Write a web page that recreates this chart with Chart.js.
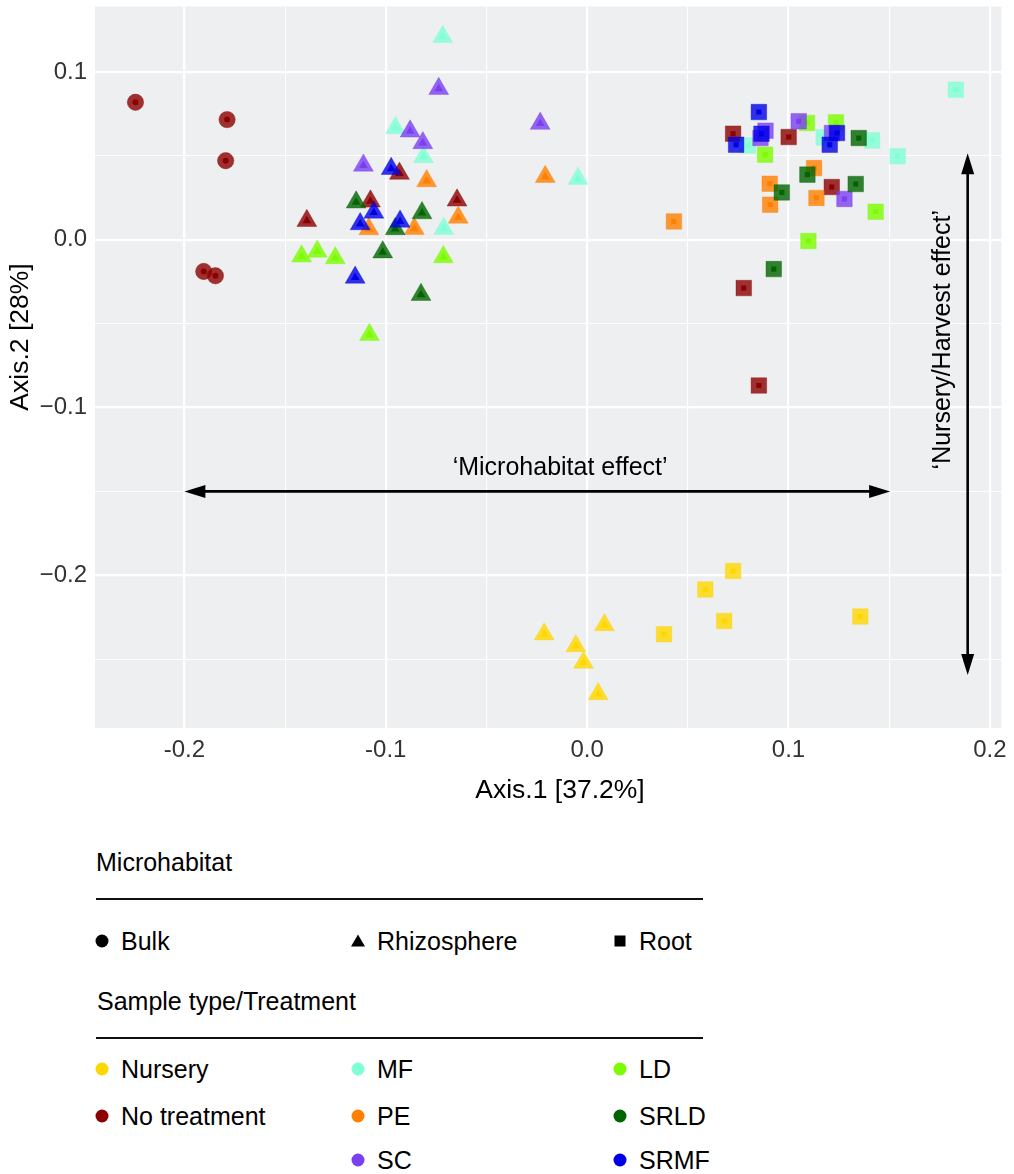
<!DOCTYPE html>
<html><head><meta charset="utf-8">
<script src="https://cdn.jsdelivr.net/npm/chart.js@4/dist/chart.umd.min.js"></script>
<style>
html,body{margin:0;padding:0;background:#fff;}
body{width:1014px;height:1174px;position:relative;overflow:hidden;font-family:'Liberation Sans',Arial,Helvetica,sans-serif;color:#000;}
#wrap{position:absolute;left:0;top:-6px;width:1014px;height:826px;}
.lg{position:absolute;font-size:25px;line-height:28px;white-space:nowrap;color:#000;}
.hr{position:absolute;height:2px;background:#111;}
.sym{position:absolute;overflow:visible;}
</style></head><body>
<div id="wrap"><canvas id="c" width="1014" height="826"></canvas></div>
<div id="legend"></div>
<script>
// ---------- DATA ----------
const microhabitats = ['Bulk', 'Rhizosphere', 'Root'];
const treatments = ['Nursery', 'No treatment', 'MF', 'PE', 'SC', 'LD', 'SRLD', 'SRMF'];
const treatmentColors = ['#FFD700', '#8B0000', '#7FFFD4', '#FF7F00', '#7B3FF2', '#7CFC00', '#006400', '#0000E6'];

const xTicks = [-0.2, -0.15, -0.1, -0.05, 0, 0.05, 0.1, 0.15, 0.2];
const yTicks = [-0.25, -0.2, -0.15, -0.1, -0.05, 0, 0.05, 0.1];
const xRange = [-0.2444, 0.2058];
const yRange = [-0.291, 0.139];

// Bulk (circles)
const bulkNoTreatment = [[-0.2243,0.0819],[-0.1788,0.0716],[-0.1795,0.0471],[-0.1904,-0.0189],[-0.1846,-0.0215]];

// Rhizosphere (triangles)
const rhizoNursery = [[-0.0213,-0.2351],[-0.0056,-0.2421],[-0.0018,-0.2520],[0.0086,-0.2296],[0.0055,-0.2707]];
const rhizoNoTreatment = [[-0.0932,0.0394],[-0.0646,0.0235],[-0.1076,0.0229],[-0.1392,0.0113]];
const rhizoMF = [[-0.0717,0.1209],[-0.0952,0.0666],[-0.0813,0.0493],[-0.0712,0.0066],[-0.0045,0.0364]];
const rhizoPE = [[-0.0797,0.0350],[-0.0640,0.0133],[-0.1084,0.0064],[-0.0858,0.0066],[-0.0208,0.0376]];
const rhizoSC = [[-0.0737,0.0900],[-0.0879,0.0646],[-0.0816,0.0577],[-0.1111,0.0443],[-0.0233,0.0692]];
const rhizoLD = [[-0.1418,-0.0099],[-0.1340,-0.0070],[-0.1251,-0.0109],[-0.0714,-0.0103],[-0.1081,-0.0566]];
const rhizoSRLD = [[-0.1147,0.0223],[-0.0820,0.0159],[-0.0953,0.0064],[-0.1015,-0.0074],[-0.0825,-0.0328]];
const rhizoSRMF = [[-0.0973,0.0423],[-0.1059,0.0163],[-0.1127,0.0094],[-0.0929,0.0109],[-0.1152,-0.0225]];

// Root (squares)
const rootNursery = [[0.0382,-0.2351],[0.0587,-0.2085],[0.0725,-0.1974],[0.0681,-0.2272],[0.1357,-0.2246]];
const rootNoTreatment = [[0.0725,0.0632],[0.1001,0.0612],[0.1215,0.0314],[0.0778,-0.0288],[0.0853,-0.0869]];
const rootMF = [[0.1831,0.0894],[0.1175,0.0610],[0.0798,0.0562],[0.1415,0.0592],[0.1542,0.0497]];
const rootPE = [[0.1127,0.0427],[0.0907,0.0334],[0.1139,0.0249],[0.0909,0.0209],[0.0431,0.0109]];
const rootSC = [[0.1051,0.0706],[0.0886,0.0650],[0.0861,0.0606],[0.1216,0.0636],[0.1278,0.0243]];
const rootLD = [[0.1092,0.0696],[0.1236,0.0700],[0.0884,0.0507],[0.1433,0.0167],[0.1099,-0.0008]];
const rootSRLD = [[0.1349,0.0606],[0.1094,0.0388],[0.0967,0.0282],[0.1334,0.0332],[0.0927,-0.0175]];
const rootSRMF = [[0.0853,0.0761],[0.0866,0.0632],[0.1241,0.0636],[0.1205,0.0566],[0.0740,0.0566]];

// Annotation arrows (data coordinates)
const microhabitatArrow = [[-0.2, -0.15], [0.1505, -0.15]];
const nurseryHarvestArrow = [[0.189, 0.0515], [0.189, -0.2594]];
const microhabitatLabel = { text: '\u2018Microhabitat effect\u2019', at: [-0.0134, -0.136] };
const nurseryHarvestLabel = { text: '\u2018Nursery/Harvest effect\u2019', at: [0.177, -0.0596] };
const xTitle = 'Axis.1 [37.2%]';
const yTitle = 'Axis.2 [28%]';
const legendTitles = ['Microhabitat', 'Sample type/Treatment'];

// ---------- BUILD ----------
const FONT = "'Liberation Sans', Arial, Helvetica, sans-serif";
const CANVAS_SHIFT = 6; // canvas is placed 6px above the page top
const shapeOf = { 'Bulk': 'circle', 'Rhizosphere': 'triangle', 'Root': 'rect' };
const outerR = { circle: 8.2, triangle: 11.5, rect: 11 };
const innerR = { circle: 3, triangle: 5, rect: 3.6 };

function hexToRgba(hex, a) {
  const n = parseInt(hex.slice(1), 16);
  return `rgba(${(n >> 16) & 255},${(n >> 8) & 255},${n & 255},${a})`;
}
function colorOf(t) { return treatmentColors[treatments.indexOf(t)]; }

const series = [
  { t: 'Nursery', m: 'Rhizosphere', pts: rhizoNursery },
  { t: 'Nursery', m: 'Root', pts: rootNursery },
  { t: 'No treatment', m: 'Bulk', pts: bulkNoTreatment },
  { t: 'No treatment', m: 'Rhizosphere', pts: rhizoNoTreatment },
  { t: 'No treatment', m: 'Root', pts: rootNoTreatment },
  { t: 'MF', m: 'Rhizosphere', pts: rhizoMF },
  { t: 'MF', m: 'Root', pts: rootMF },
  { t: 'PE', m: 'Rhizosphere', pts: rhizoPE },
  { t: 'PE', m: 'Root', pts: rootPE },
  { t: 'LD', m: 'Rhizosphere', pts: rhizoLD },
  { t: 'LD', m: 'Root', pts: rootLD },
  { t: 'SC', m: 'Rhizosphere', pts: rhizoSC },
  { t: 'SC', m: 'Root', pts: rootSC },
  { t: 'SRLD', m: 'Rhizosphere', pts: rhizoSRLD },
  { t: 'SRLD', m: 'Root', pts: rootSRLD },
  { t: 'SRMF', m: 'Rhizosphere', pts: rhizoSRMF },
  { t: 'SRMF', m: 'Root', pts: rootSRMF },
];

const datasets = series.map((s, i) => {
  const shape = shapeOf[s.m];
  const col = colorOf(s.t);
  return {
    label: s.t + ' / ' + s.m,
    data: s.pts.map(p => ({ x: p[0], y: p[1] })),
    pointStyle: shape,
    pointRadius: outerR[shape],
    pointHoverRadius: outerR[shape],
    pointBackgroundColor: hexToRgba(col, 0.8),
    pointBorderColor: hexToRgba(col, 0.35),
    pointBorderWidth: 1,
    innerColor: col,
    innerShape: shape,
    order: -i,
  };
});

function shapePath(ctx, shape, x, y, r) {
  ctx.beginPath();
  if (shape === 'circle') {
    ctx.arc(x, y, r, 0, Math.PI * 2);
  } else if (shape === 'triangle') {
    for (let k = 0; k < 3; k++) {
      const a = k * 2 * Math.PI / 3;
      const px = x + Math.sin(a) * r, py = y - Math.cos(a) * r;
      if (k === 0) ctx.moveTo(px, py); else ctx.lineTo(px, py);
    }
    ctx.closePath();
  } else {
    const h = r * Math.SQRT1_2;
    ctx.rect(x - h, y - h, 2 * h, 2 * h);
  }
}

const isMajor = v => Math.abs(Math.round(v * 10) - v * 10) < 1e-6;

const panelBg = {
  id: 'panelBg',
  beforeDraw(chart) {
    const { ctx, chartArea: a } = chart;
    ctx.save();
    ctx.fillStyle = '#EDEFF1';
    ctx.fillRect(a.left, a.top, a.right - a.left, a.bottom - a.top);
    ctx.restore();
  }
};

const innerDots = {
  id: 'innerDots',
  afterDatasetDraw(chart, args) {
    const ds = chart.data.datasets[args.index];
    const ctx = chart.ctx;
    ctx.save();
    ctx.fillStyle = ds.innerColor;
    args.meta.data.forEach(el => {
      shapePath(ctx, ds.innerShape, el.x, el.y, innerR[ds.innerShape]);
      ctx.fill();
    });
    ctx.restore();
  }
};

function arrowHead(ctx, tipX, tipY, dx, dy) {
  const L = 21, W = 6.5;
  const bx = tipX - dx * L, by = tipY - dy * L;
  ctx.beginPath();
  ctx.moveTo(tipX, tipY);
  ctx.lineTo(bx - dy * W, by + dx * W);
  ctx.lineTo(bx + dy * W, by - dx * W);
  ctx.closePath();
  ctx.fill();
}
function drawArrow(chart, pts) {
  const { ctx, scales: { x, y } } = chart;
  const x1 = x.getPixelForValue(pts[0][0]), y1 = y.getPixelForValue(pts[0][1]);
  const x2 = x.getPixelForValue(pts[1][0]), y2 = y.getPixelForValue(pts[1][1]);
  const len = Math.hypot(x2 - x1, y2 - y1), dx = (x2 - x1) / len, dy = (y2 - y1) / len;
  ctx.save();
  ctx.strokeStyle = '#000'; ctx.fillStyle = '#000'; ctx.lineWidth = 2.6;
  ctx.beginPath();
  ctx.moveTo(x1 + dx * 10, y1 + dy * 10);
  ctx.lineTo(x2 - dx * 10, y2 - dy * 10);
  ctx.stroke();
  arrowHead(ctx, x2, y2, dx, dy);
  arrowHead(ctx, x1, y1, -dx, -dy);
  ctx.restore();
}

const annotations = {
  id: 'annotations',
  afterDatasetsDraw(chart) {
    const { ctx, scales: { x, y } } = chart;
    drawArrow(chart, microhabitatArrow);
    drawArrow(chart, nurseryHarvestArrow);
    ctx.save();
    ctx.fillStyle = '#000';
    ctx.font = '25px ' + FONT;
    ctx.textAlign = 'center';
    ctx.textBaseline = 'middle';
    ctx.fillText(microhabitatLabel.text, x.getPixelForValue(microhabitatLabel.at[0]), y.getPixelForValue(microhabitatLabel.at[1]));
    ctx.translate(x.getPixelForValue(nurseryHarvestLabel.at[0]), y.getPixelForValue(nurseryHarvestLabel.at[1]));
    ctx.rotate(-Math.PI / 2);
    ctx.fillText(nurseryHarvestLabel.text, 0, 0);
    ctx.restore();
  }
};

const axisTitles = {
  id: 'axisTitles',
  afterDraw(chart) {
    const ctx = chart.ctx;
    ctx.save();
    ctx.fillStyle = '#000';
    ctx.font = '26.5px ' + FONT;
    ctx.textAlign = 'center';
    ctx.textBaseline = 'middle';
    ctx.fillText(xTitle, 560, 791 + CANVAS_SHIFT);
    ctx.translate(21, 337 + CANVAS_SHIFT);
    ctx.rotate(-Math.PI / 2);
    ctx.fillText(yTitle, 0, 0);
    ctx.restore();
  }
};

new Chart(document.getElementById('c'), {
  type: 'scatter',
  data: { datasets },
  options: {
    responsive: false,
    animation: false,
    events: [],
    layout: { padding: { left: 0, right: 11, top: 1, bottom: 0 } },
    plugins: { legend: { display: false }, tooltip: { enabled: false } },
    scales: {
      x: {
        type: 'linear', min: xRange[0], max: xRange[1], bounds: 'data',
        afterBuildTicks: s => { s.ticks = xTicks.map(v => ({ value: v })); },
        afterFit: s => { s.height = 92; s.paddingLeft = 0; s.paddingRight = 0; },
        border: { display: false },
        grid: { color: '#FFFFFF', lineWidth: c => (c.tick && isMajor(c.tick.value)) ? 2.2 : 1.1, drawTicks: false },
        ticks: {
          autoSkip: false, maxRotation: 0, minRotation: 0, padding: 8,
          color: '#333', font: { family: FONT, size: 24 },
          callback: v => isMajor(v) ? (Math.abs(v) < 1e-9 ? '0.0' : v.toFixed(1)) : ''
        },
        title: { display: false }
      },
      y: {
        type: 'linear', min: yRange[0], max: yRange[1], bounds: 'data',
        afterBuildTicks: s => { s.ticks = yTicks.map(v => ({ value: v })); },
        afterFit: s => { s.width = 95; s.paddingTop = 0; s.paddingBottom = 0; },
        border: { display: false },
        grid: { color: '#FFFFFF', lineWidth: c => (c.tick && isMajor(c.tick.value)) ? 2.2 : 1.1, drawTicks: false },
        ticks: {
          autoSkip: false, padding: 8,
          color: '#333', font: { family: FONT, size: 24 },
          callback: v => isMajor(v) ? (Math.abs(v) < 1e-9 ? '0.0' : v.toFixed(1).replace('-', '\u2212')) : ''
        },
        title: { display: false }
      }
    }
  },
  plugins: [panelBg, innerDots, annotations, axisTitles]
});

// ---------- HTML LEGEND ----------
const legend = document.getElementById('legend');
const colSym = [102, 358, 620], colText = [121, 377, 639];
function addText(txt, x, cy) {
  const d = document.createElement('div');
  d.className = 'lg'; d.textContent = txt;
  d.style.left = x + 'px'; d.style.top = (cy - 14) + 'px';
  legend.appendChild(d);
}
function addRule(cy) {
  const d = document.createElement('div');
  d.className = 'hr'; d.style.left = '96px'; d.style.width = '607px'; d.style.top = (cy - 1) + 'px';
  legend.appendChild(d);
}
function addSym(shape, color, cx, cy) {
  const ns = 'http://www.w3.org/2000/svg';
  const svg = document.createElementNS(ns, 'svg');
  svg.setAttribute('class', 'sym'); svg.setAttribute('width', 20); svg.setAttribute('height', 20);
  svg.style.left = (cx - 10) + 'px'; svg.style.top = (cy - 10) + 'px';
  let el;
  if (shape === 'circle') { el = document.createElementNS(ns, 'circle'); el.setAttribute('cx', 10); el.setAttribute('cy', 10); el.setAttribute('r', 6.5); }
  else if (shape === 'triangle') { el = document.createElementNS(ns, 'polygon'); el.setAttribute('points', '10,3.5 17,15.5 3,15.5'); }
  else { el = document.createElementNS(ns, 'rect'); el.setAttribute('x', 4.5); el.setAttribute('y', 4.5); el.setAttribute('width', 11); el.setAttribute('height', 11); }
  el.setAttribute('fill', color);
  svg.appendChild(el);
  legend.appendChild(svg);
}
addText(legendTitles[0], 96, 862);
addRule(899);
microhabitats.forEach((m, i) => { addSym(shapeOf[m], '#000', colSym[i], 941); addText(m, colText[i], 941); });
addText(legendTitles[1], 97, 1001);
addRule(1038);
const treatRows = [1069, 1116, 1160];
const placement = [[0, 0], [0, 1], [1, 0], [1, 1], [1, 2], [2, 0], [2, 1], [2, 2]];
treatments.forEach((t, i) => {
  const [c, r] = placement[i];
  addSym('circle', treatmentColors[i], colSym[c], treatRows[r]);
  addText(t, colText[c], treatRows[r]);
});
</script>
</body></html>
